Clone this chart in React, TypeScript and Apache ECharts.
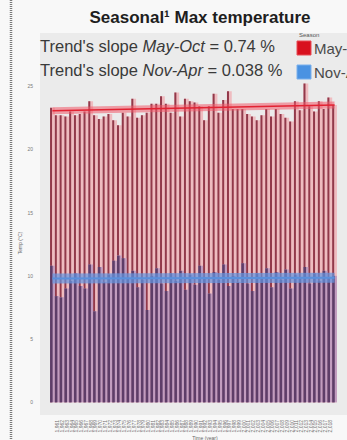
import React, { useEffect, useRef } from "react";
import * as echarts from "echarts";

// Years (x categories)
const years = [
  1960, 1961, 1962, 1963, 1964, 1965, 1966, 1967, 1968, 1969,
  1970, 1971, 1972, 1973, 1974, 1975, 1976, 1977, 1978, 1979,
  1980, 1981, 1982, 1983, 1984, 1985, 1986, 1987, 1988, 1989,
  1990, 1991, 1992, 1993, 1994, 1995, 1996, 1997, 1998, 1999,
  2000, 2001, 2002, 2003, 2004, 2005, 2006, 2007, 2008, 2009,
  2010, 2011, 2012, 2013, 2014, 2015, 2016, 2017, 2018, 2019,
];

// Seasonal max temperature (°C), May-Oct
const mayOct = [
  23.3, 22.7, 22.7, 22.6, 23.0, 22.7, 22.8, 23.0, 23.8, 22.7,
  22.4, 22.6, 22.8, 22.3, 21.9, 22.9, 22.6, 24.0, 22.5, 22.7,
  22.9, 23.6, 23.6, 24.2, 23.6, 22.9, 24.5, 22.6, 24.0, 23.8,
  23.7, 23.4, 22.3, 23.4, 24.4, 22.9, 23.9, 24.6, 23.2, 23.2,
  23.2, 22.8, 22.6, 22.3, 22.7, 23.2, 22.6, 23.2, 22.8, 22.5,
  22.2, 23.8, 23.1, 25.2, 23.4, 23.0, 23.8, 23.2, 24.1, 23.5,
];

// Seasonal max temperature (°C), Nov-Apr
const novApr = [
  10.8, 8.4, 8.3, 9.0, 9.6, 10.2, 9.2, 9.0, 10.9, 7.2,
  10.7, 9.5, 10.1, 11.2, 11.6, 11.4, 9.8, 10.4, 9.1, 9.7,
  7.3, 10.0, 10.6, 9.4, 8.8, 10.2, 9.6, 10.4, 8.9, 10.1,
  9.3, 10.8, 9.9, 8.6, 10.3, 9.7, 10.9, 9.2, 10.0, 9.5,
  11.0, 9.4, 8.8, 10.2, 9.9, 10.6, 9.1, 10.3, 9.7, 10.5,
  9.0, 10.1, 9.8, 10.7, 9.4, 10.2, 9.6, 10.4, 9.9, 10.0,
];

// Linear trend end points (first year, last year)
const trendMayOct = [23.05, 23.5];
const trendNovApr = [9.8, 9.85];

const yTicks = [0, 5, 10, 15, 20, 25];

const seriesNames = ["May-Oct", "Nov-Apr"];

function barRenderer(fill: string, stripe: string, stripeW: number) {
  return (_params: any, api: any) => {
    const x = api.value(0);
    const v = api.value(1);
    const base = api.coord([x, 0]);
    const top = api.coord([x, v]);
    const w = api.size([1, 0])[0];
    const left = base[0] - w / 2;
    const h = base[1] - top[1];
    return {
      type: "group",
      children: [
        { type: "rect", shape: { x: left, y: top[1], width: w, height: h }, style: { fill } },
        { type: "rect", shape: { x: left, y: top[1], width: stripeW, height: h }, style: { fill: stripe } },
      ],
    };
  };
}

export default function App() {
  const ref = useRef<HTMLDivElement>(null);

  useEffect(() => {
    if (!ref.current) return;
    const chart = echarts.init(ref.current, undefined, { renderer: "svg" });
    const first = years[0];
    const last = years[years.length - 1];
    const font = "Liberation Sans";

    const option: any = {
      animation: false,
      backgroundColor: "#f8f8f8",
      grid: {
        left: 40,
        right: -47,
        top: 33,
        bottom: 25,
        show: true,
        backgroundColor: "#ebebeb",
        borderWidth: 0,
      },
      xAxis: {
        type: "value",
        min: first - 2.6,
        max: last + 2.6,
        axisLine: { show: false },
        axisTick: { show: false },
        splitLine: { show: false },
        axisLabel: {
          customValues: years,
          rotate: 90,
          fontSize: 5,
          margin: 5,
          color: "#707070",
          fontFamily: font,
        },
      },
      yAxis: {
        type: "value",
        min: -1,
        max: 29.2,
        axisLine: { show: false },
        axisTick: { show: false },
        splitLine: { show: false },
        axisLabel: {
          customValues: yTicks,
          fontSize: 5,
          margin: 7,
          color: "#7a7a7a",
          fontFamily: font,
        },
      },
      series: [
        {
          name: seriesNames[0],
          type: "custom",
          renderItem: barRenderer("#efbcc0", "#92394a", 2),
          data: years.map((y, i) => [y, mayOct[i]]),
          z: 2,
        },
        {
          name: seriesNames[1],
          type: "custom",
          renderItem: barRenderer("#c29cbf", "#5e3d68", 2.6),
          data: years.map((y, i) => [y, novApr[i]]),
          z: 3,
        },
        {
          type: "line",
          data: [[first, trendMayOct[0]], [last, trendMayOct[1]]],
          symbol: "none",
          lineStyle: { width: 7, color: "rgba(240,90,105,0.55)" },
          z: 4,
          silent: true,
        },
        {
          type: "line",
          data: [[first, trendMayOct[0]], [last, trendMayOct[1]]],
          symbol: "none",
          lineStyle: { width: 1.5, color: "#e22232" },
          z: 5,
          silent: true,
        },
        {
          type: "line",
          data: [[first, trendNovApr[0]], [last, trendNovApr[1]]],
          symbol: "none",
          lineStyle: { width: 10, color: "rgba(100,150,225,0.7)" },
          z: 4,
          silent: true,
        },
        {
          type: "line",
          data: [[first, trendNovApr[0]], [last, trendNovApr[1]]],
          symbol: "none",
          lineStyle: { width: 2, color: "#5a90dc" },
          z: 5,
          silent: true,
        },
      ],
      graphic: [
        {
          type: "line",
          shape: { x1: 11, y1: 0, x2: 11, y2: 440 },
          style: { stroke: "#7a7a7a", lineWidth: 2.5, lineDash: [1, 1] },
          z: 10,
        },
        {
          type: "text",
          x: 200,
          y: 17,
          style: {
            text: "Seasonal¹ Max temperature",
            fontSize: 17,
            fontWeight: "bold",
            fontFamily: font,
            fill: "#1e1e1e",
            textAlign: "center",
            textVerticalAlign: "middle",
          },
          z: 10,
        },
        {
          type: "text",
          x: 40,
          y: 46,
          style: {
            text: "{n|Trend's slope }{i|May-Oct}{n| = 0.74 %}",
            textVerticalAlign: "middle",
            rich: {
              n: { fontSize: 16.5, fontFamily: font, fill: "#3a3a3a" },
              i: { fontSize: 16.5, fontFamily: font, fontStyle: "italic", fill: "#3a3a3a" },
            },
          },
          z: 10,
        },
        {
          type: "text",
          x: 40,
          y: 70,
          style: {
            text: "{n|Trend's slope }{i|Nov-Apr}{n| = 0.038 %}",
            textVerticalAlign: "middle",
            rich: {
              n: { fontSize: 16.5, fontFamily: font, fill: "#3a3a3a" },
              i: { fontSize: 16.5, fontFamily: font, fontStyle: "italic", fill: "#3a3a3a" },
            },
          },
          z: 10,
        },
        {
          type: "text",
          x: 299,
          y: 35,
          style: { text: "Season", fontSize: 6, fontFamily: font, fill: "#555", textVerticalAlign: "middle" },
          z: 10,
        },
        {
          type: "rect",
          shape: { x: 297, y: 41, width: 14, height: 14 },
          style: { fill: "#d8101e", stroke: "#e84a55", lineWidth: 1 },
          z: 10,
        },
        {
          type: "text",
          x: 314,
          y: 48,
          style: { text: seriesNames[0], fontSize: 15, fontFamily: font, fill: "#4a4a4a", textVerticalAlign: "middle" },
          z: 10,
        },
        {
          type: "rect",
          shape: { x: 297, y: 65, width: 14, height: 14 },
          style: { fill: "#4a92e2", stroke: "#7ab0ec", lineWidth: 1 },
          z: 10,
        },
        {
          type: "text",
          x: 314,
          y: 72,
          style: { text: seriesNames[1], fontSize: 15, fontFamily: font, fill: "#4a4a4a", textVerticalAlign: "middle" },
          z: 10,
        },
        {
          type: "text",
          x: 20,
          y: 243,
          rotation: Math.PI / 2,
          style: {
            text: "Temp (°C)",
            fontSize: 5,
            fontFamily: font,
            fill: "#666",
            textAlign: "center",
            textVerticalAlign: "middle",
          },
          z: 10,
        },
        {
          type: "text",
          x: 205,
          y: 438,
          style: {
            text: "Time (year)",
            fontSize: 5,
            fontFamily: font,
            fill: "#666",
            textAlign: "center",
            textVerticalAlign: "middle",
          },
          z: 10,
        },
      ],
    };

    chart.setOption(option);
    return () => chart.dispose();
  }, []);

  return (
    <div style={{ position: "fixed", left: 0, top: 0, width: 347, height: 440, overflow: "hidden" }}>
      <div ref={ref} style={{ width: 347, height: 440 }} />
    </div>
  );
}
